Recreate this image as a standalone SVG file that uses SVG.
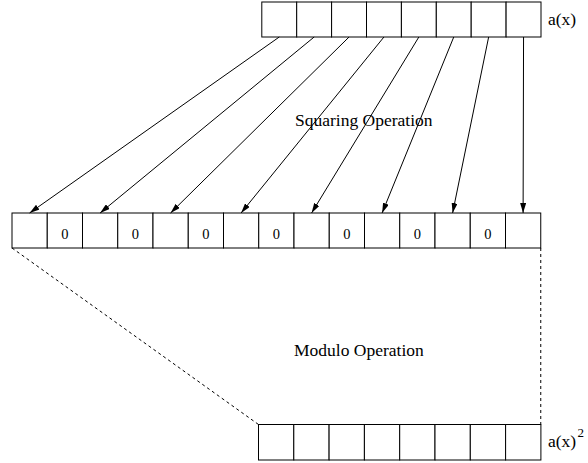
<svg xmlns="http://www.w3.org/2000/svg" width="588" height="463" viewBox="0 0 588 463">
  <style>
    .cell { fill: #fff; stroke: #000; stroke-width: 1; }
    .lbl { font-family: "Liberation Serif", "Times New Roman", serif; font-size: 17.5px; fill: #000; }
    .z { font-family: "Liberation Serif", "Times New Roman", serif; font-size: 14.5px; fill: #000; text-anchor: middle; }
    .arr { stroke: #000; stroke-width: 1; fill: none; marker-end: url(#ah); }
    .dash { stroke: #000; stroke-width: 1; stroke-dasharray: 3 3; fill: none; }
  </style>
  <defs>
    <marker id="ah" viewBox="0 0 10 6" refX="10" refY="3" markerWidth="10" markerHeight="6" markerUnits="userSpaceOnUse" orient="auto">
      <path d="M0,0 L10,3 L0,6 Z" fill="#000"/>
    </marker>
  </defs>

  <!-- input polynomial a(x) -->
  <g id="input">
    <rect class="cell" x="261.8" y="2" width="34.9" height="35"/>
    <rect class="cell" x="296.7" y="2" width="34.9" height="35"/>
    <rect class="cell" x="331.6" y="2" width="34.9" height="35"/>
    <rect class="cell" x="366.5" y="2" width="34.9" height="35"/>
    <rect class="cell" x="401.4" y="2" width="34.9" height="35"/>
    <rect class="cell" x="436.3" y="2" width="34.9" height="35"/>
    <rect class="cell" x="471.2" y="2" width="34.9" height="35"/>
    <rect class="cell" x="506.1" y="2" width="34.9" height="35"/>
    <text class="lbl" x="548" y="25">a(x)</text>
  </g>

  <!-- expanded square with interleaved zeros -->
  <g id="expanded">
    <rect class="cell" x="12" y="213" width="35.25" height="35"/>
    <rect class="cell" x="47.25" y="213" width="35.25" height="35"/>
    <rect class="cell" x="82.5" y="213" width="35.25" height="35"/>
    <rect class="cell" x="117.75" y="213" width="35.25" height="35"/>
    <rect class="cell" x="153" y="213" width="35.25" height="35"/>
    <rect class="cell" x="188.25" y="213" width="35.25" height="35"/>
    <rect class="cell" x="223.5" y="213" width="35.25" height="35"/>
    <rect class="cell" x="258.75" y="213" width="35.25" height="35"/>
    <rect class="cell" x="294" y="213" width="35.25" height="35"/>
    <rect class="cell" x="329.25" y="213" width="35.25" height="35"/>
    <rect class="cell" x="364.5" y="213" width="35.25" height="35"/>
    <rect class="cell" x="399.75" y="213" width="35.25" height="35"/>
    <rect class="cell" x="435" y="213" width="35.25" height="35"/>
    <rect class="cell" x="470.25" y="213" width="35.25" height="35"/>
    <rect class="cell" x="505.5" y="213" width="35.25" height="35"/>
    <text class="z" x="64.9" y="238.5">0</text>
    <text class="z" x="135.4" y="238.5">0</text>
    <text class="z" x="205.9" y="238.5">0</text>
    <text class="z" x="276.4" y="238.5">0</text>
    <text class="z" x="346.9" y="238.5">0</text>
    <text class="z" x="417.4" y="238.5">0</text>
    <text class="z" x="487.9" y="238.5">0</text>
  </g>

  <!-- reduced result a(x)^2 -->
  <g id="result">
    <rect class="cell" x="258.5" y="424.5" width="35.3" height="35.5"/>
    <rect class="cell" x="293.8" y="424.5" width="35.3" height="35.5"/>
    <rect class="cell" x="329.1" y="424.5" width="35.3" height="35.5"/>
    <rect class="cell" x="364.4" y="424.5" width="35.3" height="35.5"/>
    <rect class="cell" x="399.7" y="424.5" width="35.3" height="35.5"/>
    <rect class="cell" x="435" y="424.5" width="35.3" height="35.5"/>
    <rect class="cell" x="470.3" y="424.5" width="35.3" height="35.5"/>
    <rect class="cell" x="505.6" y="424.5" width="35.3" height="35.5"/>
    <text class="lbl" x="548" y="447">a(x)</text>
    <text class="lbl" x="577.5" y="437" style="font-size:13px">2</text>
  </g>

  <g id="labels">
    <text class="lbl" x="295" y="126">Squaring Operation</text>
    <text class="lbl" x="294" y="356">Modulo Operation</text>
  </g>

  <!-- connectors -->
  <g id="connectors">
    <line class="arr" x1="279.25" y1="37" x2="29.6" y2="213"/>
    <line class="arr" x1="314.15" y1="37" x2="100.1" y2="213"/>
    <line class="arr" x1="349.05" y1="37" x2="170.6" y2="213"/>
    <line class="arr" x1="383.95" y1="37" x2="241.1" y2="213"/>
    <line class="arr" x1="418.85" y1="37" x2="311.6" y2="213"/>
    <line class="arr" x1="453.75" y1="37" x2="382.1" y2="213"/>
    <line class="arr" x1="488.65" y1="37" x2="452.6" y2="213"/>
    <line class="arr" x1="523.55" y1="37" x2="523.1" y2="213"/>
    <line class="dash" x1="12" y1="248" x2="258.5" y2="424.5"/>
    <line class="dash" x1="540.75" y1="248" x2="540.75" y2="424.5"/>
  </g>
</svg>
